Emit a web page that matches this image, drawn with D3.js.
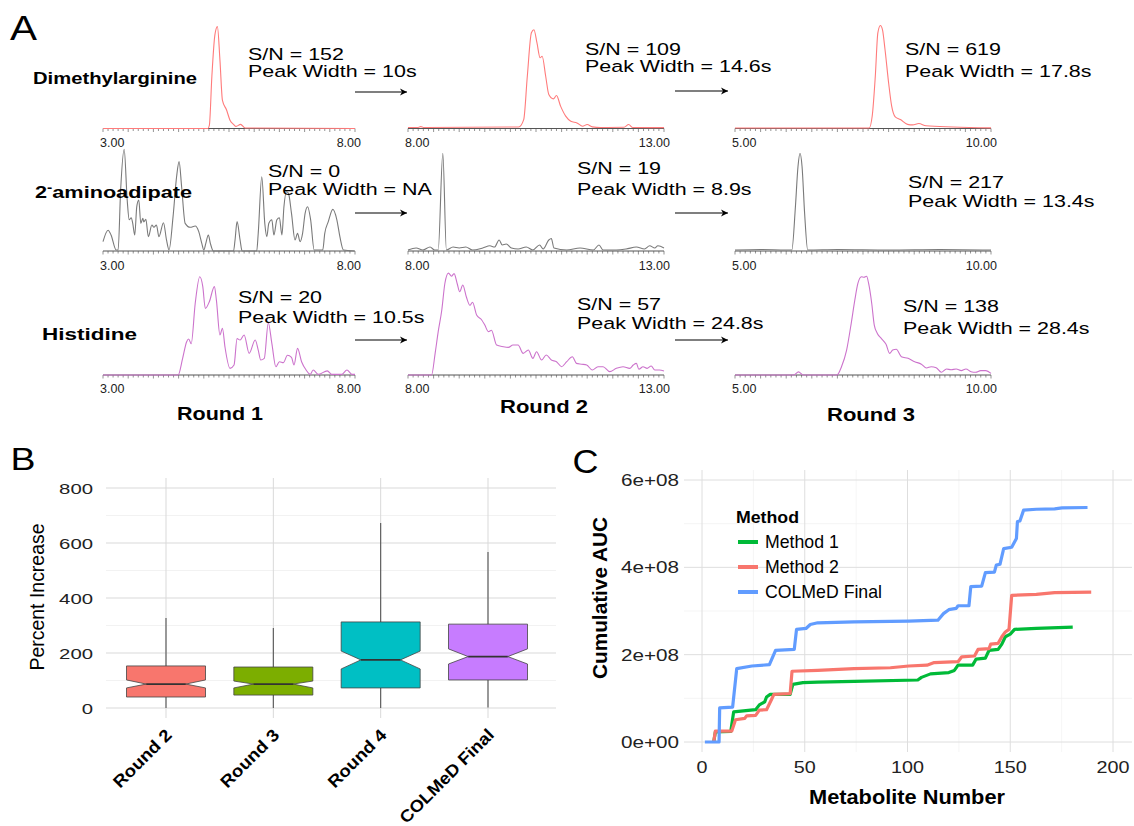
<!DOCTYPE html>
<html><head><meta charset="utf-8">
<script src="https://cdn.jsdelivr.net/npm/d3@7"></script>
<style>body{margin:0;background:#fff}svg{display:block}text{font-family:"Liberation Sans",Arial,sans-serif}</style>
</head><body><svg id="fig" width="1134" height="826"></svg>
<script>
// ---------------- DATA ----------------
// Panel A
const chromDomains = [[3, 8], [8, 13], [5, 10]];
const chromTickLabels = [["3.00", "8.00"], ["8.00", "13.00"], ["5.00", "10.00"]];
const metaboliteNames = ["Dimethylarginine", "2-aminoadipate", "Histidine"];
const roundLabels = ["Round 1", "Round 2", "Round 3"];
const snValues = [[152, 109, 619], [0, 19, 217], [20, 57, 138]];
const peakWidths = [["10s", "14.6s", "17.8s"], ["NA", "8.9s", "13.4s"], ["10.5s", "24.8s", "28.4s"]];

const dmaR1 = [[3.0,0],[5.08,0],[5.11,3],[5.16,50],[5.22,90],[5.27,98],[5.32,66],[5.37,27],[5.45,18],[5.52,8],[5.59,4],[5.64,2],[5.73,4],[5.82,0.5],[8.0,0]];
const dmaR2 = [[8.0,1],[8.2,1],[8.25,1.8],[8.3,1],[10.16,1.5],[10.26,8.6],[10.33,50],[10.41,92],[10.46,95],[10.52,82],[10.58,68],[10.62,69.5],[10.69,50],[10.75,32.7],[10.84,28.5],[10.9,31.7],[10.98,21.5],[11.08,11.9],[11.18,7],[11.3,5.4],[11.41,2.2],[11.5,3.8],[11.6,1.6],[11.76,1],[12.22,1.2],[12.31,3.8],[12.39,1],[13.0,0.8]];
const dmaR3 = [[5.0,0.5],[7.62,0.5],[7.68,12],[7.74,50],[7.79,92],[7.84,99],[7.88,95],[7.93,76],[8.0,44],[8.06,21.5],[8.13,11.2],[8.23,8.7],[8.37,4],[8.47,3.5],[8.59,4.8],[8.73,2.6],[9.26,1.5],[10.0,0.6]];
const aadR1 = [[3.0,9],[3.1,20],[3.16,15.4],[3.26,1],[3.3,1],[3.35,58.7],[3.42,97.8],[3.48,49],[3.52,30],[3.56,32],[3.59,26.6],[3.63,15.4],[3.67,42.6],[3.71,49],[3.75,26.6],[3.79,31.4],[3.81,28],[3.85,30.5],[3.9,13.8],[3.97,25],[4.01,22.8],[4.06,25],[4.11,13.8],[4.2,27.2],[4.26,10.6],[4.31,1],[4.39,33],[4.46,71.4],[4.51,85.9],[4.56,61.8],[4.63,26.6],[4.73,22.8],[4.83,24],[4.9,18.6],[4.96,7.4],[5.0,1],[5.04,7.4],[5.09,15.4],[5.13,7.4],[5.19,0],[5.59,0],[5.62,10.6],[5.66,28.2],[5.72,10.6],[5.76,0],[6.05,0],[6.08,17],[6.15,71.4],[6.21,26.6],[6.25,13.8],[6.29,26.6],[6.35,30],[6.39,15.4],[6.45,30],[6.5,32],[6.55,15.4],[6.59,42.6],[6.64,57],[6.68,55.4],[6.74,36.2],[6.81,10.6],[6.86,17],[6.91,9],[6.96,17],[7.01,36.2],[7.06,42.6],[7.12,30],[7.19,1],[7.36,1],[7.4,17],[7.47,28.2],[7.56,40],[7.64,30],[7.7,13.8],[7.77,1],[7.98,0]];
const aadR2 = [[8.0,1],[8.16,2.9],[8.29,1],[8.43,3.8],[8.52,1],[8.59,1],[8.68,94],[8.75,1],[8.88,3.8],[9.0,2.9],[9.13,3.8],[9.26,1],[9.46,2.9],[9.6,5],[9.69,3.8],[9.78,10.6],[9.84,5.8],[9.92,6.7],[10.02,2.9],[10.15,1.9],[10.31,3.8],[10.44,1],[10.57,5.8],[10.64,1.9],[10.75,10.6],[10.8,12],[10.85,2.9],[11.1,1],[11.36,2.9],[11.62,1],[11.73,5.8],[11.81,1],[12.07,1],[12.26,1.9],[12.46,3.8],[12.62,1.9],[12.72,5],[12.82,2.9],[12.88,5],[13.0,2.9]];
const aadR3 = [[5.0,1],[5.5,1.5],[6.0,1],[6.11,1],[6.18,42.6],[6.23,81],[6.27,94],[6.31,81],[6.36,36],[6.42,1],[7.0,1.5],[8.0,1],[9.0,1.5],[10.0,1]];
const hisR1 = [[3.0,0],[4.49,0],[4.58,16],[4.66,32],[4.7,34.6],[4.75,30],[4.83,69],[4.92,94.5],[4.98,85],[5.03,64],[5.11,70.5],[5.21,85],[5.25,72],[5.32,38.5],[5.37,45],[5.42,27],[5.52,6.4],[5.6,9.6],[5.66,35],[5.72,33.6],[5.8,38.5],[5.9,20.8],[6.02,33.6],[6.08,24],[6.13,14.4],[6.2,16],[6.28,50.3],[6.35,30.4],[6.43,8],[6.5,12.8],[6.58,11.9],[6.66,19],[6.74,17],[6.79,9.6],[6.86,25.6],[6.94,12.8],[7.03,4.8],[7.11,0.6],[7.17,4.8],[7.27,0.6],[7.45,4],[7.54,0.6],[7.74,0.6],[7.84,4.8],[7.94,0.6],[8.0,0.6]];
const hisR2 = [[8.0,0],[8.46,0],[8.53,20.8],[8.59,41.7],[8.66,62.5],[8.72,88],[8.79,98],[8.85,95],[8.9,97.5],[8.96,88],[9.01,80],[9.07,86.5],[9.14,75],[9.21,67],[9.26,70],[9.34,57.7],[9.44,52.9],[9.5,48],[9.57,41.7],[9.63,43],[9.73,28.8],[9.86,27.2],[9.96,26.6],[10.05,28.8],[10.15,28.8],[10.25,20.8],[10.35,24],[10.44,16],[10.51,22.4],[10.61,14.4],[10.7,19.2],[10.8,14.4],[10.9,12.8],[11.0,8],[11.1,12.8],[11.21,17.6],[11.29,11.2],[11.39,10.4],[11.49,9.6],[11.6,4.8],[11.71,8],[11.81,8],[11.94,3.2],[12.07,6.4],[12.2,8],[12.33,6.4],[12.4,9.6],[12.46,11.2],[12.51,5.5],[12.59,8],[12.67,6.4],[12.75,8.7],[12.82,4.8],[12.91,4.8],[13.0,3.8]];
const hisR3 = [[5.0,0],[6.15,0],[6.24,3],[6.33,0],[6.99,0],[7.08,8],[7.18,24],[7.27,49.7],[7.34,72],[7.4,88],[7.47,94.5],[7.52,94],[7.57,95],[7.61,88],[7.67,69],[7.72,48],[7.78,40],[7.86,35],[7.95,29.5],[8.02,20.8],[8.08,24],[8.15,24.7],[8.25,17.6],[8.38,16],[8.51,12.8],[8.64,10.4],[8.74,6.7],[8.83,8],[8.93,7],[9.03,2.6],[9.13,5.8],[9.22,5],[9.32,5.8],[9.42,4.2],[9.51,5.8],[9.61,3.2],[9.7,2.6],[9.8,4.2],[9.9,4.2],[10.0,1.6]];
const traces = [[dmaR1, dmaR2, dmaR3], [aadR1, aadR2, aadR3], [hisR1, hisR2, hisR3]];

// Panel B
const boxCategories = ["Round 2", "Round 3", "Round 4", "COLMeD Final"];
const boxLower = [0, 0, 0, 2];
const boxQ1 = [40, 47, 73, 102];
const boxNotchLow = [73, 73, 142, 160];
const boxMedian = [87, 87, 175, 187];
const boxNotchHigh = [102, 98, 207, 215];
const boxQ3 = [153, 149, 313, 305];
const boxUpper = [327, 291, 673, 567];
const boxColors = ["#F8766D", "#7CAE00", "#00BFC4", "#C77CFF"];
const percentTicks = [0, 200, 400, 600, 800];

// Panel C
const method1 = [[5.7,0],[6.5,0.23e8],[14,0.24e8],[15.4,0.69e8],[26.1,0.74e8],[27.9,0.85e8],[30.5,0.92e8],[31.4,1.03e8],[33.2,1.09e8],[42.9,1.09e8],[44.2,1.32e8],[49.1,1.36e8],[56.3,1.37e8],[74,1.39e8],[105,1.42e8],[106.8,1.48e8],[111.2,1.56e8],[120.1,1.59e8],[122.8,1.64e8],[124.6,1.76e8],[131.7,1.76e8],[133.4,1.9e8],[137.9,1.92e8],[139.7,2.1e8],[144.1,2.12e8],[145.9,2.24e8],[147.6,2.41e8],[150,2.47e8],[152.1,2.58e8],[162.7,2.6e8],[180.4,2.63e8]];
const method2 = [[5.7,0],[6.5,0.25e8],[14.5,0.25e8],[16.3,0.51e8],[20.8,0.54e8],[21.7,0.6e8],[26.1,0.61e8],[27.9,0.73e8],[31.4,0.74e8],[34,0.99e8],[35,1.09e8],[42.9,1.11e8],[43.8,1.62e8],[56.3,1.64e8],[74,1.68e8],[91.7,1.7e8],[100.6,1.74e8],[109.5,1.76e8],[113,1.82e8],[124.6,1.84e8],[126.4,1.95e8],[132.6,1.97e8],[134.3,2.12e8],[139.7,2.14e8],[140.5,2.24e8],[144.1,2.26e8],[145.9,2.41e8],[147.6,2.52e8],[149.4,2.58e8],[150.7,3.36e8],[162.7,3.38e8],[171.6,3.42e8],[189.4,3.43e8]];
const colmedFinal = [[1.4,0],[8.3,0],[8.6,0.78e8],[14.9,0.8e8],[16.9,1.68e8],[24.3,1.74e8],[32.8,1.77e8],[35.8,2.1e8],[44.9,2.12e8],[46,2.58e8],[50.6,2.6e8],[52.7,2.69e8],[56.3,2.73e8],[74,2.75e8],[100.6,2.77e8],[114.8,2.79e8],[117.5,2.94e8],[120.1,3.03e8],[123.7,3.06e8],[124.6,3.12e8],[129.9,3.12e8],[130.8,3.56e8],[136.1,3.57e8],[137.9,3.88e8],[142.3,3.89e8],[143.2,4.05e8],[145,4.07e8],[146.8,4.43e8],[150.7,4.46e8],[153,4.66e8],[153.5,5.05e8],[154.7,5.06e8],[156.5,5.31e8],[162.7,5.33e8],[171.6,5.34e8],[175.2,5.36e8],[187.6,5.37e8]];
const legendLabels = ["Method 1", "Method 2", "COLMeD Final"];
const legendColors = ["#00BA38", "#F8766D", "#619CFF"];
const aucTicks = [0, 2e8, 4e8, 6e8];
const aucTickLabels = ["0e+00", "2e+08", "4e+08", "6e+08"];
const metaboliteTicks = [0, 50, 100, 150, 200];

// ---------------- DRAW ----------------
const svg = d3.select("#fig");
function T(g, str, x, y, o = {}) {
  const t = g.append("text").attr("x", x).attr("y", y).text(str)
    .attr("font-size", o.size || 14).attr("font-weight", o.bold ? "bold" : "normal")
    .attr("text-anchor", o.anchor || "start").attr("fill", o.fill || "#000");
  if (o.w) t.attr("textLength", o.w).attr("lengthAdjust", "spacingAndGlyphs");
  if (o.rot) t.attr("transform", `rotate(${o.rot},${x},${y})`);
  if (o.sx) t.attr("transform", `translate(${x},${y}) scale(${o.sx},1) translate(${-x},${-y})`);
  return t;
}
svg.append("defs").append("marker").attr("id", "arr").attr("viewBox", "-8 -5 10 10")
  .attr("refX", 0).attr("refY", 0).attr("markerWidth", 10).attr("markerHeight", 10)
  .attr("markerUnits", "userSpaceOnUse").attr("orient", "auto")
  .append("path").attr("d", "M-7,-3.5L0,0L-7,3.5L-5,0Z").attr("fill", "#000");

// ===== Panel A =====
const gA = svg.append("g");
T(gA, "A", 10, 40, { size: 35, w: 27 });
const colX = [[103, 355], [408, 664], [735, 991]];
const rowBase = [128.5, 251, 375];
const traceColors = ["#FF7B7B", "#7A7A7A", "#CC73CC"];
const labelBase = [147, 270, 393];
const snPos = [[[248, 60, 77], [585, 55, 72], [905, 55, 77]],
               [[268, 177, 195], [577, 174, 195], [908, 188, 207]],
               [[238, 303, 323], [577, 310, 329], [903, 312, 334]]];
const arrowY = [[92, 91], [213, 213], [340, 340]];
const namePos = [[33, 84, 164], [35, 198, 157], [42, 340, 95]];

for (let r = 0; r < 3; r++) {
  for (let c = 0; c < 3; c++) {
    const dom = chromDomains[c];
    const xs = d3.scaleLinear().domain(dom).range(colX[c]);
    const ys = d3.scaleLinear().domain([0, 100]).range([rowBase[r], rowBase[r] - 104]);
    const g = gA.append("g");
    const tks = d3.range(0, Math.round((dom[1] - dom[0]) * 10) + 1).map(i => dom[0] + i / 10);
    g.selectAll("line.tk").data(tks).join("line")
      .attr("x1", d => xs(d)).attr("x2", d => xs(d))
      .attr("y1", rowBase[r]).attr("y2", (d, i) => rowBase[r] + (i % 5 === 0 ? 3.5 : 2.5))
      .attr("stroke", "#666").attr("stroke-width", 0.7);
    g.append("line").attr("x1", xs(dom[0])).attr("x2", xs(dom[1]))
      .attr("y1", rowBase[r]).attr("y2", rowBase[r]).attr("stroke", "#555").attr("stroke-width", 1);
    g.append("path").datum(traces[r][c])
      .attr("d", d3.line().x(d => xs(d[0])).y(d => ys(d[1])).curve(d3.curveMonotoneX))
      .attr("fill", "none").attr("stroke", traceColors[r]).attr("stroke-width", 1.1);
    T(g, chromTickLabels[c][0], xs(dom[0]) - 3, labelBase[r], { size: 12.5, fill: "#222" });
    T(g, chromTickLabels[c][1], xs(dom[1]) + 6, labelBase[r], { size: 12.5, anchor: "end", fill: "#222" });
    const p = snPos[r][c];
    T(g, `S/N = ${snValues[r][c]}`, p[0], p[1], { size: 16.5, sx: 1.3 });
    T(g, `Peak Width = ${peakWidths[r][c]}`, p[0], p[2], { size: 16.5, sx: 1.3 });
    if (c < 2) {
      const x1 = colX[c][1] + (c === 0 ? 0 : 11), x2 = colX[c + 1][0] - (c === 0 ? 1 : 7);
      g.append("line").attr("x1", x1).attr("x2", x2).attr("y1", arrowY[r][c]).attr("y2", arrowY[r][c])
        .attr("stroke", "#000").attr("stroke-width", 1.1).attr("marker-end", "url(#arr)");
    }
  }
  const np = namePos[r];
  if (r === 1) {
    const t = gA.append("text").attr("x", np[0]).attr("y", np[1]).attr("font-size", 16.5)
      .attr("font-weight", "bold").attr("textLength", np[2]).attr("lengthAdjust", "spacingAndGlyphs");
    const parts = metaboliteNames[r].split("-");
    t.append("tspan").text(parts[0]);
    t.append("tspan").text("-").attr("dy", -6).attr("font-size", 12);
    t.append("tspan").text(parts[1]).attr("dy", 6);
  } else {
    T(gA, metaboliteNames[r], np[0], np[1], { size: 16.5, bold: true, w: np[2] });
  }
}
const roundPos = [[220, 420, 86], [544, 412.5, 88], [871, 420.5, 88]];
roundLabels.forEach((s, i) => T(gA, s, roundPos[i][0], roundPos[i][1], { size: 17.5, bold: true, anchor: "middle", w: roundPos[i][2] }));

// ===== Panel B =====
const gB = svg.append("g");
T(gB, "B", 10.5, 470, { size: 32, w: 25 });
const yB = d3.scaleLinear().domain([0, 800]).range([708, 488]);
const xB = d3.scalePoint().domain(boxCategories).range([166, 488]);
const bL = 106, bR = 556, bT = 478, bBot = 718;
const minorB = d3.range(100, 800, 200);
gB.selectAll("line.mi").data(minorB).join("line").attr("x1", bL).attr("x2", bR)
  .attr("y1", d => yB(d)).attr("y2", d => yB(d)).attr("stroke", "#EDEDED").attr("stroke-width", 0.7);
gB.selectAll("line.ma").data(percentTicks).join("line").attr("x1", bL).attr("x2", bR)
  .attr("y1", d => yB(d)).attr("y2", d => yB(d)).attr("stroke", "#D9D9D9").attr("stroke-width", 1);
gB.selectAll("line.vc").data(boxCategories).join("line").attr("x1", d => xB(d)).attr("x2", d => xB(d))
  .attr("y1", bT).attr("y2", bBot).attr("stroke", "#D9D9D9").attr("stroke-width", 1);
percentTicks.forEach(v => T(gB, String(v), 93, yB(v) + 5.5, { size: 15, anchor: "end", fill: "#222", w: String(v).length * 11.3 }));
const hw = 39.5, inset = 19.7;
boxCategories.forEach((cat, i) => {
  const cx = xB(cat);
  gB.append("line").attr("x1", cx).attr("x2", cx).attr("y1", yB(boxUpper[i])).attr("y2", yB(boxQ3[i]))
    .attr("stroke", "#555").attr("stroke-width", 1.1);
  gB.append("line").attr("x1", cx).attr("x2", cx).attr("y1", yB(boxQ1[i])).attr("y2", yB(boxLower[i]))
    .attr("stroke", "#555").attr("stroke-width", 1.1);
  const pts = [[cx - hw, yB(boxQ3[i])], [cx - hw, yB(boxNotchHigh[i])], [cx - hw + inset, yB(boxMedian[i])],
    [cx - hw, yB(boxNotchLow[i])], [cx - hw, yB(boxQ1[i])], [cx + hw, yB(boxQ1[i])], [cx + hw, yB(boxNotchLow[i])],
    [cx + hw - inset, yB(boxMedian[i])], [cx + hw, yB(boxNotchHigh[i])], [cx + hw, yB(boxQ3[i])]];
  gB.append("polygon").attr("points", pts.map(p => p.join(",")).join(" "))
    .attr("fill", boxColors[i]).attr("stroke", "#444").attr("stroke-width", 0.8);
  gB.append("line").attr("x1", cx - hw + inset).attr("x2", cx + hw - inset)
    .attr("y1", yB(boxMedian[i])).attr("y2", yB(boxMedian[i])).attr("stroke", "#333").attr("stroke-width", 1.6);
  T(gB, cat, cx + 7, 736, { size: 17, bold: true, anchor: "end", rot: -45, w: cat.length > 8 ? 125 : 75 });
});
T(gB, "Percent Increase", 44, 597, { size: 19.5, anchor: "middle", rot: -90, w: 147 });

// ===== Panel C =====
const gC = svg.append("g");
T(gC, "C", 572.5, 473, { size: 33, w: 26 });
const xC = d3.scaleLinear().domain([0, 200]).range([702, 1113]);
const yC = d3.scaleLinear().domain([0, 6e8]).range([742, 480]);
const cL = 684, cR = 1132, cT = 470, cB = 752;
const minorX = d3.range(25, 250, 50).filter(v => xC(v) <= cR);
const minorY = [1e8, 3e8, 5e8];
gC.selectAll("line.mx").data(minorX).join("line").attr("x1", d => xC(d)).attr("x2", d => xC(d))
  .attr("y1", cT).attr("y2", cB).attr("stroke", "#F0F0F0").attr("stroke-width", 0.7);
gC.selectAll("line.my").data(minorY).join("line").attr("x1", cL).attr("x2", cR)
  .attr("y1", d => yC(d)).attr("y2", d => yC(d)).attr("stroke", "#F0F0F0").attr("stroke-width", 0.7);
gC.selectAll("line.Mx").data(metaboliteTicks).join("line").attr("x1", d => xC(d)).attr("x2", d => xC(d))
  .attr("y1", cT).attr("y2", cB).attr("stroke", "#DEDEDE").attr("stroke-width", 1);
gC.selectAll("line.My").data(aucTicks).join("line").attr("x1", cL).attr("x2", cR)
  .attr("y1", d => yC(d)).attr("y2", d => yC(d)).attr("stroke", "#DEDEDE").attr("stroke-width", 1);
aucTicks.forEach((v, i) => T(gC, aucTickLabels[i], 679, yC(v) + 6, { size: 16.5, anchor: "end", fill: "#222", w: 58 }));
metaboliteTicks.forEach(v => T(gC, String(v), xC(v), 773, { size: 16.5, anchor: "middle", fill: "#222", w: String(v).length * 11 }));
const lineC = d3.line().x(d => xC(d[0])).y(d => yC(d[1]));
[method1, method2, colmedFinal].forEach((s, i) => {
  gC.append("path").datum(s).attr("d", lineC).attr("fill", "none").attr("stroke", legendColors[i])
    .attr("stroke-width", 3.2).attr("stroke-linejoin", "round").attr("stroke-linecap", "butt");
});
T(gC, "Cumulative AUC", 607, 598, { size: 21, bold: true, anchor: "middle", rot: -90, w: 162 });
T(gC, "Metabolite Number", 907, 804, { size: 21, bold: true, anchor: "middle", w: 196 });
T(gC, "Method", 736, 523, { size: 17, bold: true, w: 63 });
legendLabels.forEach((s, i) => {
  const y = 542 + i * 25;
  gC.append("line").attr("x1", 738).attr("x2", 758).attr("y1", y).attr("y2", y)
    .attr("stroke", legendColors[i]).attr("stroke-width", 4);
  T(gC, s, 765, y + 6, { size: 17.7 });
});
</script></body></html>
